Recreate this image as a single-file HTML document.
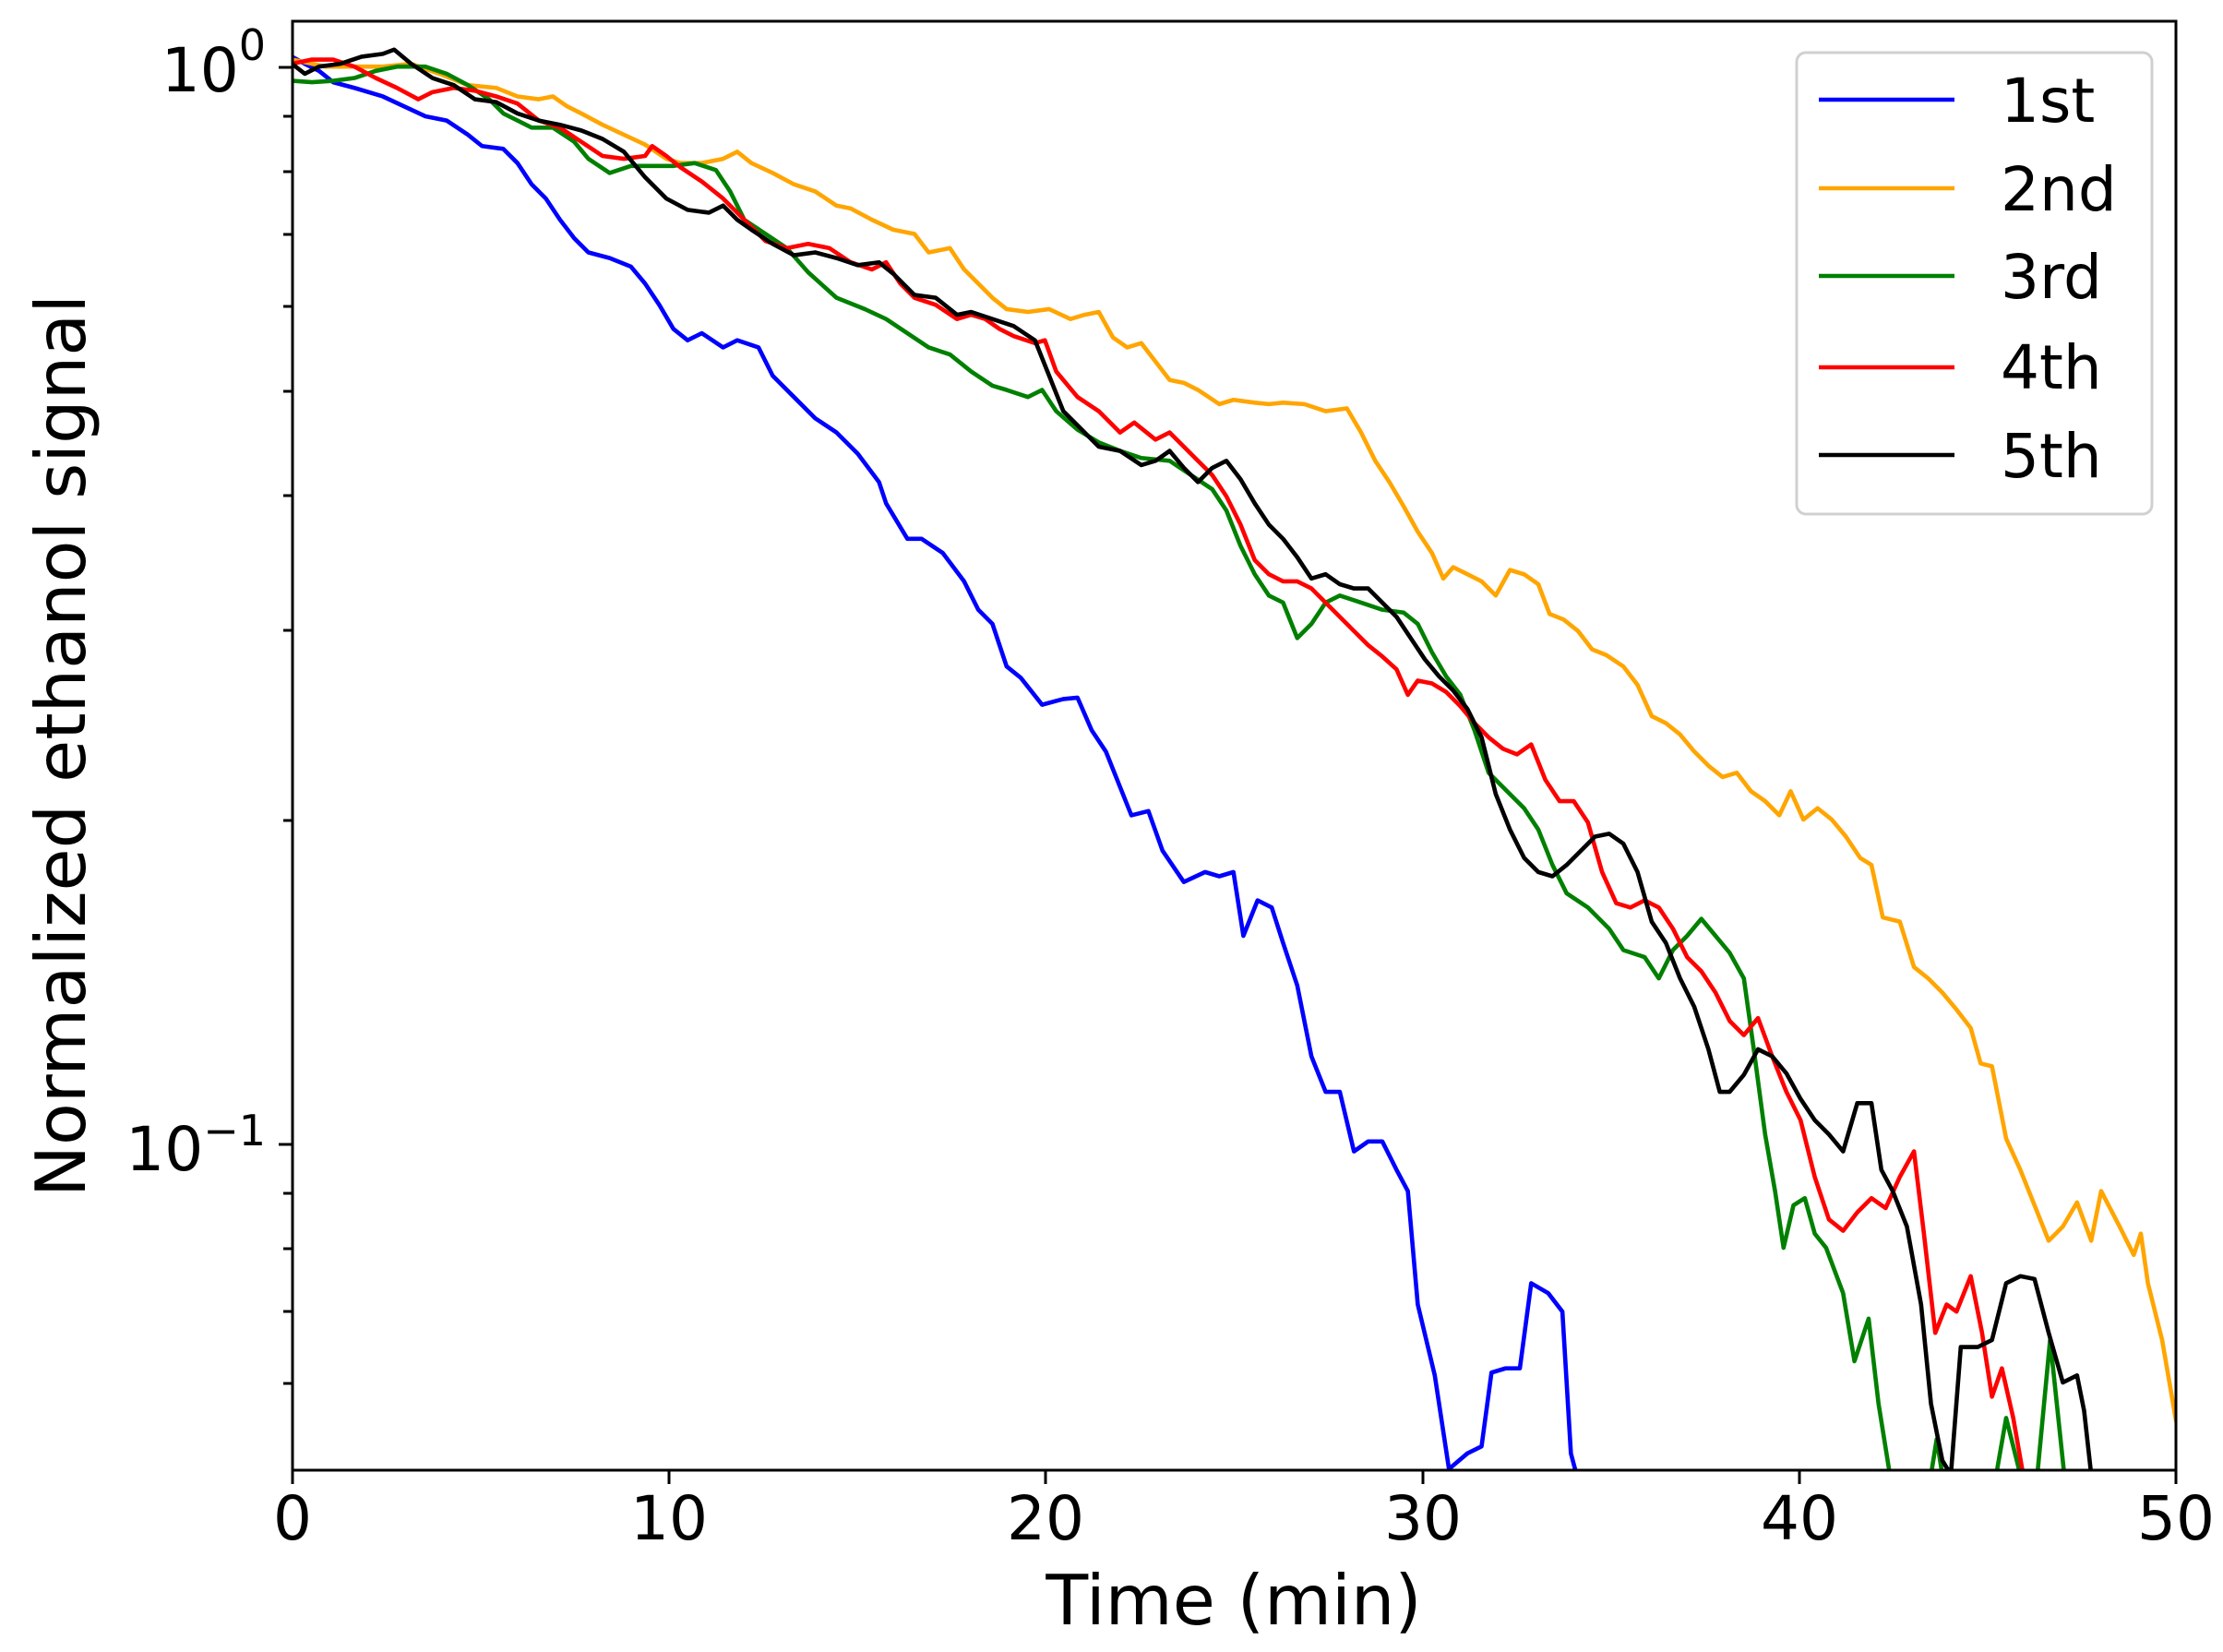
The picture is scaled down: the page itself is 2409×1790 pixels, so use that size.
<!DOCTYPE html>
<html><head><meta charset="utf-8"><style>
html,body{margin:0;padding:0;background:#fff;}
svg{display:block;font-family:"DejaVu Sans","Liberation Sans",sans-serif;}
</style></head><body>
<svg width="2409" height="1790" viewBox="0 0 2409 1790" xmlns="http://www.w3.org/2000/svg">
<defs><clipPath id="c"><rect x="317" y="23" width="2041" height="1570"/></clipPath></defs>
<rect width="2409" height="1790" fill="#fff"/>
<g clip-path="url(#c)">
<g transform="scale(1.5364)" fill="none" stroke-width="3" stroke-linejoin="round">
<polyline stroke="#0000ff" points="206,40 215,45 225,50 235,58 250,62 270,68 285,75 300,82 315,85 330,95 340,103 355,105 365,115 375,130 385,140 395,155 405,168 415,178 430,182 445,188 455,200 465,215 475,232 485,240 495,235 510,245 520,240 535,245 545,265 560,280 575,295 590,305 605,320 620,340 625,355 640,380 650,380 665,390 680,410 690,430 700,440 710,470 720,478 735,497 750,493 760,492 770,515 780,530 790,555 798,575 810,572 820,600 835,622 850,615 860,618 870,615 877,660 887,635 897,640 905,665 915,695 925,745 935,770 945,770 955,812 965,805 975,805 985,825 993,840 1000,920 1012,970 1022,1036 1035,1025 1045,1020 1052,968 1062,965 1072,965 1080,905 1092,912 1102,925 1108,1025 1112,1040"/>
<polyline stroke="#ffa500" points="206,42 230,47 250,47 270,47 290,45 310,52 330,60 350,62 365,68 380,70 390,68 400,75 410,80 425,88 440,95 455,102 470,112 480,115 495,115 510,112 520,107 530,115 545,122 560,130 575,135 590,145 600,147 615,155 630,162 645,165 655,178 670,175 680,190 690,200 700,210 710,218 725,220 740,218 755,225 765,222 775,220 785,238 795,245 805,242 815,255 825,268 835,270 845,275 860,285 870,282 885,284 895,285 905,284 920,285 935,290 950,288 960,305 970,325 980,340 990,357 1000,375 1010,390 1018,408 1025,400 1035,405 1045,410 1055,420 1065,402 1075,405 1085,412 1093,433 1103,437 1113,445 1123,458 1133,462 1145,470 1155,483 1165,505 1175,510 1185,518 1195,530 1205,540 1215,548 1225,545 1235,558 1245,565 1255,575 1263,558 1272,578 1282,570 1292,578 1302,590 1312,605 1320,610 1328,647 1340,650 1350,682 1360,690 1370,700 1380,712 1390,725 1397,750 1405,752 1415,803 1425,825 1435,850 1445,875 1455,865 1465,848 1475,875 1482,840 1495,865 1505,885 1510,870 1515,905 1525,945 1535,1003"/>
<polyline stroke="#008000" points="206,57 220,58 235,57 250,55 265,50 280,47 300,47 315,52 330,60 345,70 355,80 365,85 375,90 390,90 405,100 415,112 430,122 445,117 460,117 475,117 490,115 505,120 515,135 525,155 540,165 555,175 570,192 590,210 610,218 625,225 640,235 655,245 670,250 685,262 700,272 710,275 725,280 735,275 745,290 760,303 775,312 790,318 805,323 825,325 840,335 855,345 865,360 875,385 885,405 895,420 905,425 915,450 925,440 935,425 945,420 960,425 975,430 990,432 1000,440 1010,460 1020,477 1030,490 1040,515 1050,545 1060,555 1075,570 1085,585 1095,610 1105,630 1120,640 1135,655 1145,670 1160,675 1170,690 1180,670 1190,660 1200,648 1210,660 1220,672 1230,690 1237,740 1245,800 1252,840 1258,880 1265,850 1273,845 1280,870 1288,880 1300,912 1308,960 1318,930 1325,990 1333,1040"/>
<polyline stroke="#008000" points="1362,1040 1366,1015 1370,1040"/>
<polyline stroke="#008000" points="1408,1040 1415,1000 1425,1040"/>
<polyline stroke="#008000" points="1437,1040 1446,945 1456,1040"/>
<polyline stroke="#ff0000" points="206,45 220,42 235,42 250,47 265,55 280,62 295,70 305,65 320,62 335,64 350,68 365,73 380,85 395,90 410,100 425,110 440,112 455,110 460,103 470,110 480,118 495,128 510,140 525,155 540,170 555,175 570,172 585,175 600,185 615,190 625,185 635,200 645,210 660,215 675,225 685,222 695,225 705,232 715,237 730,242 737,240 745,262 760,280 775,290 790,305 800,298 815,310 825,305 835,315 845,325 855,335 865,350 875,370 885,395 895,405 905,410 915,410 925,415 935,425 945,435 955,445 965,455 975,463 985,472 993,490 1000,480 1010,482 1020,488 1030,498 1040,510 1050,520 1060,528 1070,532 1080,525 1090,550 1100,565 1110,565 1120,580 1130,615 1140,637 1150,640 1160,635 1170,640 1180,655 1190,675 1200,685 1210,700 1220,720 1230,730 1240,718 1250,745 1260,770 1270,790 1280,830 1290,860 1300,868 1310,855 1320,845 1330,852 1340,830 1350,812 1357,870 1365,940 1373,920 1380,925 1390,900 1398,940 1405,985 1412,965 1420,1000 1427,1040"/>
<polyline stroke="#000000" points="206,45 215,52 225,47 240,45 255,40 270,38 278,35 290,45 305,55 320,60 335,70 350,72 365,80 380,85 395,88 410,92 425,98 440,107 455,125 470,140 485,148 500,150 510,145 520,155 530,162 545,172 560,180 575,178 590,182 605,187 620,185 630,193 645,208 660,210 675,222 685,220 700,225 715,230 730,240 740,265 750,290 760,300 775,315 790,318 805,328 815,325 825,318 835,330 845,340 855,330 865,325 875,338 885,355 895,370 905,380 915,393 925,408 935,405 945,412 955,415 965,415 975,425 985,435 995,450 1005,465 1015,477 1025,487 1035,500 1045,520 1055,560 1065,585 1075,605 1085,615 1095,618 1105,610 1115,600 1125,590 1135,588 1145,595 1155,615 1165,650 1175,665 1185,690 1195,710 1205,740 1213,770 1220,770 1230,758 1240,740 1250,745 1260,757 1270,775 1280,790 1290,800 1300,812 1310,778 1320,778 1327,825 1335,840 1345,865 1355,920 1362,990 1370,1030 1376,1040 1383,950 1395,950 1405,945 1415,905 1425,900 1435,902 1445,940 1455,975 1465,970 1470,995 1475,1040"/>
</g>
</g>
<rect x="317" y="23" width="2041" height="1570" fill="none" stroke="#000" stroke-width="3"/>
<g stroke="#000" stroke-width="3">
<line x1="317" y1="1593" x2="317" y2="1608"/><line x1="725" y1="1593" x2="725" y2="1608"/><line x1="1133" y1="1593" x2="1133" y2="1608"/><line x1="1542" y1="1593" x2="1542" y2="1608"/><line x1="1950" y1="1593" x2="1950" y2="1608"/><line x1="2358" y1="1593" x2="2358" y2="1608"/>
<line x1="302" y1="73" x2="317" y2="73"/><line x1="302" y1="1240" x2="317" y2="1240"/>
<line x1="307" y1="126" x2="317" y2="126"/><line x1="307" y1="186" x2="317" y2="186"/><line x1="307" y1="254" x2="317" y2="254"/><line x1="307" y1="332" x2="317" y2="332"/><line x1="307" y1="424" x2="317" y2="424"/><line x1="307" y1="537" x2="317" y2="537"/><line x1="307" y1="683" x2="317" y2="683"/><line x1="307" y1="889" x2="317" y2="889"/>
<line x1="307" y1="1293" x2="317" y2="1293"/><line x1="307" y1="1353" x2="317" y2="1353"/><line x1="307" y1="1421" x2="317" y2="1421"/><line x1="307" y1="1499" x2="317" y2="1499"/>
</g>
<g font-size="66" fill="#000" text-anchor="middle">
<text x="317" y="1668">0</text><text x="725" y="1668">10</text><text x="1133" y="1668">20</text><text x="1542" y="1668">30</text><text x="1950" y="1668">40</text><text x="2358" y="1668">50</text>
</g>
<g font-size="66" fill="#000" text-anchor="end">
<text x="288" y="99">10<tspan font-size="46" dy="-34">0</tspan></text>
<text x="288" y="1268">10<tspan font-size="46" dy="-27">−1</tspan></text>
</g>
<text x="1337" y="1760" font-size="75" text-anchor="middle">Time (min)</text>
<text transform="translate(92,808) rotate(-90)" font-size="75" text-anchor="middle">Normalized ethanol signal</text>
<rect x="1947" y="57" width="385" height="500" rx="10" fill="#fff" fill-opacity="0.8" stroke="#d0d0d0" stroke-width="3"/>
<g stroke-width="4.5">
<line x1="1971" y1="108" x2="2118" y2="108" stroke="#0000ff"/>
<line x1="1971" y1="204" x2="2118" y2="204" stroke="#ffa500"/>
<line x1="1971" y1="299" x2="2118" y2="299" stroke="#008000"/>
<line x1="1971" y1="398" x2="2118" y2="398" stroke="#ff0000"/>
<line x1="1971" y1="493" x2="2118" y2="493" stroke="#000000"/>
</g>
<g font-size="66" fill="#000">
<text x="2168" y="132">1st</text><text x="2168" y="228">2nd</text><text x="2168" y="323">3rd</text><text x="2168" y="421">4th</text><text x="2168" y="517">5th</text>
</g>
</svg>
</body></html>
